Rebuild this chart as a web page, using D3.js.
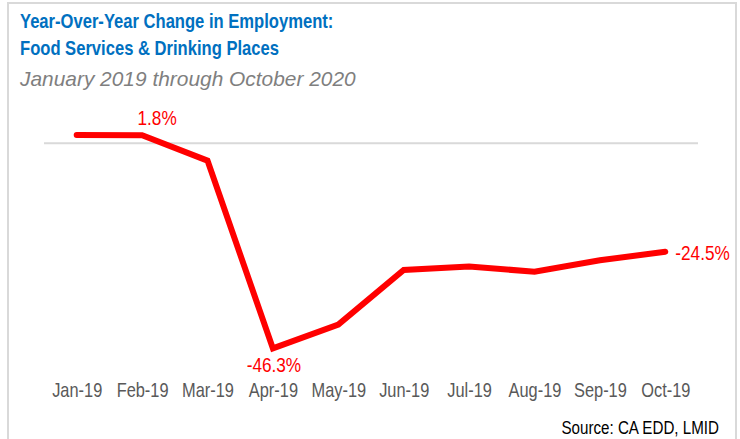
<!DOCTYPE html>
<html lang="en">
  <head>
    <meta charset="UTF-8" />
    <title>Year-Over-Year Change in Employment</title>
    <style>
      body { margin: 0; background: #fff; }
      svg { display: block; font-family: "Liberation Sans", Arial, sans-serif; }
    </style>
  </head>
  <body>
    <div id="chart"></div>

    <script src="https://cdn.jsdelivr.net/npm/d3@7"></script>
    <script>
      // data
      var months = ["Jan-19", "Feb-19", "Mar-19", "Apr-19", "May-19",
                    "Jun-19", "Jul-19", "Aug-19", "Sep-19", "Oct-19"];
      var yoyChange = [1.9, 1.8, -3.9, -46.3, -40.9, -28.6, -27.8, -29.0, -26.4, -24.5];
      var labelled = ["Feb-19", "Apr-19", "Oct-19"];

      var width = 740;
      var height = 439;
      var narrow = 0.82;   // squeeze to look like a narrow face

      var svg = d3.select("#chart")
                  .append("svg")
                  .attr("width", width)
                  .attr("height", height);

      // frame
      svg.append("rect")
         .attr("x", 8)
         .attr("y", 3)
         .attr("width", 728)
         .attr("height", 450)
         .attr("fill", "#fff")
         .attr("stroke", "#d9d9d9")
         .attr("stroke-width", 2);

      // text placed at x,y then squeezed horizontally
      function addText(x, y, str, size, sx) {
        return svg.append("g")
          .attr("transform", "translate(" + x + "," + y + ") scale(" + sx + ",1)")
          .append("text")
          .attr("font-size", size + "px")
          .text(str);
      }

      addText(20, 28, "Year-Over-Year Change in Employment:", 20, 0.83)
        .attr("font-weight", "bold").attr("fill", "#0070c0");
      addText(20, 55, "Food Services & Drinking Places", 20, 0.83)
        .attr("font-weight", "bold").attr("fill", "#0070c0");
      addText(20, 86, "January 2019 through October 2020", 20.9, 1)
        .attr("font-style", "italic").attr("fill", "#7f7f7f");

      var xScale = d3.scalePoint()
                     .domain(months)
                     .range([44, 698])
                     .padding(0.5);
      var yScale = d3.scaleLinear()
                     .domain([-50, 5])
                     .range([364.8, 121.15]);

      // zero line
      svg.append("line")
         .attr("x1", 44).attr("x2", 698)
         .attr("y1", yScale(0)).attr("y2", yScale(0))
         .attr("stroke", "#d9d9d9")
         .attr("stroke-width", 2);

      var xAxis = d3.axisBottom(xScale).tickSize(0).tickPadding(0);
      var gx = svg.append("g")
         .attr("class", "x-axis")
         .attr("transform", "translate(0,383)")
         .call(xAxis);
      gx.select(".domain").remove();
      gx.selectAll("text")
        .attr("font-size", "20px")
        .attr("font-family", "Liberation Sans, Arial, sans-serif")
        .attr("fill", "#595959")
        .attr("transform", "scale(" + narrow + ",1)");

      var series = months.map(function(m, i) { return { month: m, value: yoyChange[i] }; });

      var line = d3.line()
                   .x(function(d) { return xScale(d.month); })
                   .y(function(d) { return yScale(d.value); });

      svg.append("path")
         .datum(series)
         .attr("d", line)
         .attr("fill", "none")
         .attr("stroke", "#ff0000")
         .attr("stroke-width", 6)
         .attr("stroke-linecap", "round");

      // value labels
      var pts = series.filter(function(d) { return labelled.indexOf(d.month) >= 0; });
      pts.forEach(function(d) {
        var x = xScale(d.month), y = yScale(d.value), anchor = "middle";
        if (d.month == "Feb-19") { x += 15; y -= 10; }
        else if (d.month == "Oct-19") { x += 10; y += 8; anchor = "start"; }
        else { y += 24; x += 1; }
        addText(x, y, d.value.toFixed(1) + "%", 21, narrow)
          .attr("fill", "#ff0000")
          .attr("text-anchor", anchor);
      });

      addText(719, 434, "Source: CA EDD, LMID", 18.5, narrow)
        .attr("text-anchor", "end")
        .attr("fill", "#000");
    </script>
  </body>
</html>
